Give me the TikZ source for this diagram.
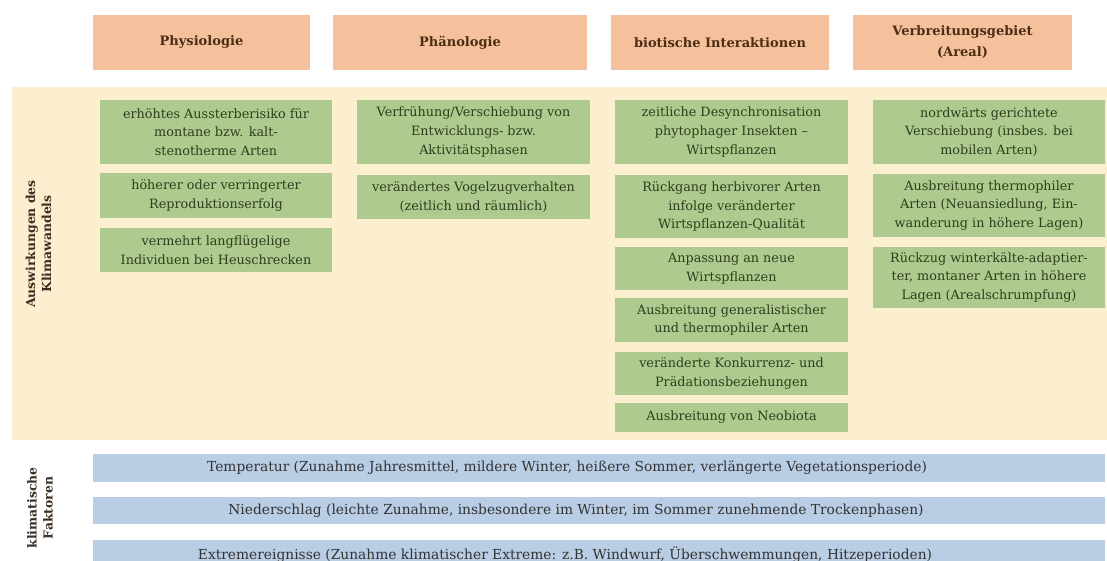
\documentclass[tikz,border=0pt]{standalone}
\usepackage{fontspec}
\setmainfont{DejaVu Serif}
\definecolor{hdrfill}{HTML}{F5C19C}
\definecolor{hdrtext}{HTML}{4B2D14}
\definecolor{grfill}{HTML}{ADCB8E}
\definecolor{grtext}{HTML}{2F3D1C}
\definecolor{blfill}{HTML}{B9CDE5}
\definecolor{bltext}{HTML}{333333}
\definecolor{beige}{HTML}{FCEFCF}
\definecolor{sidetext}{HTML}{3B2E22}
\tikzset{
  hdr/.style={fill=hdrfill, text=hdrtext, font=\fontsize{13}{21}\selectfont\bfseries, align=center, inner sep=0pt, minimum height=55pt},
  gbox/.style={fill=grfill, text=grtext, font=\fontsize{12.8}{18.6}\selectfont, align=center, inner sep=0pt},
  bbar/.style={fill=blfill, inner sep=0pt, minimum width=1012pt},
  btext/.style={text=bltext, font=\fontsize{13.8}{16}\selectfont, inner sep=0pt},
  side/.style={rotate=90, text=sidetext, font=\fontsize{12.4}{16}\selectfont\bfseries, align=center}
}
\begin{document}
\begin{tikzpicture}[x=1pt,y=-1pt]
\useasboundingbox (0,0) rectangle (1107,561);
\clip (0,0) rectangle (1107,561);
\fill[white] (0,0) rectangle (1107,561);
% beige panel
\node[fill=beige, inner sep=0pt, minimum width=1095pt, minimum height=353pt] (panel) at (559.5,263.5) {};
% headers
\node[hdr, minimum width=217pt] (h1) at (201.5,42.5) {Physiologie};
\node[hdr, minimum width=254pt] (h2) at (460,42.5) {Phänologie};
\node[hdr, minimum width=218pt] (h3) at (720,42.5) {biotische Interaktionen};
\node[hdr, minimum width=219pt] (h4) at (962.5,42.5) {Verbreitungsgebiet\\(Areal)};
% side labels
\node[side] (s1) at (38.5,244) {Auswirkungen des\\Klimawandels};
\node[side] (s2) at (40,508) {klimatische\\Faktoren};
% column 1
\node[gbox, minimum width=232pt, minimum height=64pt] (c1a) at (216,132) {erhöhtes Aussterberisiko für\\montane bzw. kalt-\\stenotherme Arten};
\node[gbox, minimum width=232pt, minimum height=45pt] (c1b) at (216,195.5) {höherer oder verringerter\\Reproduktionserfolg};
\node[gbox, minimum width=232pt, minimum height=44pt] (c1c) at (216,250) {vermehrt langflügelige\\Individuen bei Heuschrecken};
% column 2
\node[gbox, minimum width=233pt, minimum height=64pt] (c2a) at (473.5,132) {Verfrühung/Verschiebung von\\Entwicklungs- bzw.\\Aktivitätsphasen};
\node[gbox, minimum width=233pt, minimum height=44pt] (c2b) at (473.5,197) {verändertes Vogelzugverhalten\\(zeitlich und räumlich)};
% column 3
\node[gbox, minimum width=233pt, minimum height=64pt] (c3a) at (731.5,132) {zeitliche Desynchronisation\\phytophager Insekten --\\Wirtspflanzen};
\node[gbox, minimum width=233pt, minimum height=63pt] (c3b) at (731.5,206.5) {Rückgang herbivorer Arten\\infolge veränderter\\Wirtspflanzen-Qualität};
\node[gbox, minimum width=233pt, minimum height=43pt] (c3c) at (731.5,268.5) {Anpassung an neue\\Wirtspflanzen};
\node[gbox, minimum width=233pt, minimum height=44pt] (c3d) at (731.5,320) {Ausbreitung generalistischer\\und thermophiler Arten};
\node[gbox, minimum width=233pt, minimum height=43pt] (c3e) at (731.5,373.5) {veränderte Konkurrenz- und\\Prädationsbeziehungen};
\node[gbox, minimum width=233pt, minimum height=29pt] (c3f) at (731.5,417.5) {Ausbreitung von Neobiota};
% column 4
\node[gbox, minimum width=232pt, minimum height=64pt] (c4a) at (989,132) {nordwärts gerichtete\\Verschiebung (insbes. bei\\mobilen Arten)};
\node[gbox, minimum width=232pt, minimum height=63pt] (c4b) at (989,205.5) {Ausbreitung thermophiler\\Arten (Neuansiedlung, Ein-\\wanderung in höhere Lagen)};
\node[gbox, minimum width=232pt, minimum height=61pt] (c4c) at (989,277.5) {Rückzug winterkälte-adaptier-\\ter, montaner Arten in höhere\\Lagen (Arealschrumpfung)};
% climate bars
\node[bbar, minimum height=28pt] (b1) at (599,468) {};
\node[bbar, minimum height=27pt] (b2) at (599,510.5) {};
\node[bbar, minimum height=30pt] (b3) at (599,555) {};
\node[btext] (t1) at ([xshift=-32pt]b1.center) {Temperatur (Zunahme Jahresmittel, mildere Winter, heißere Sommer, verlängerte Vegetationsperiode)};
\node[btext] (t2) at ([xshift=-23pt]b2.center) {Niederschlag (leichte Zunahme, insbesondere im Winter, im Sommer zunehmende Trockenphasen)};
\node[btext] (t3) at ([xshift=-34pt]b3.center) {Extremereignisse (Zunahme klimatischer Extreme: z.B. Windwurf, Überschwemmungen, Hitzeperioden)};
\end{tikzpicture}
\end{document}
